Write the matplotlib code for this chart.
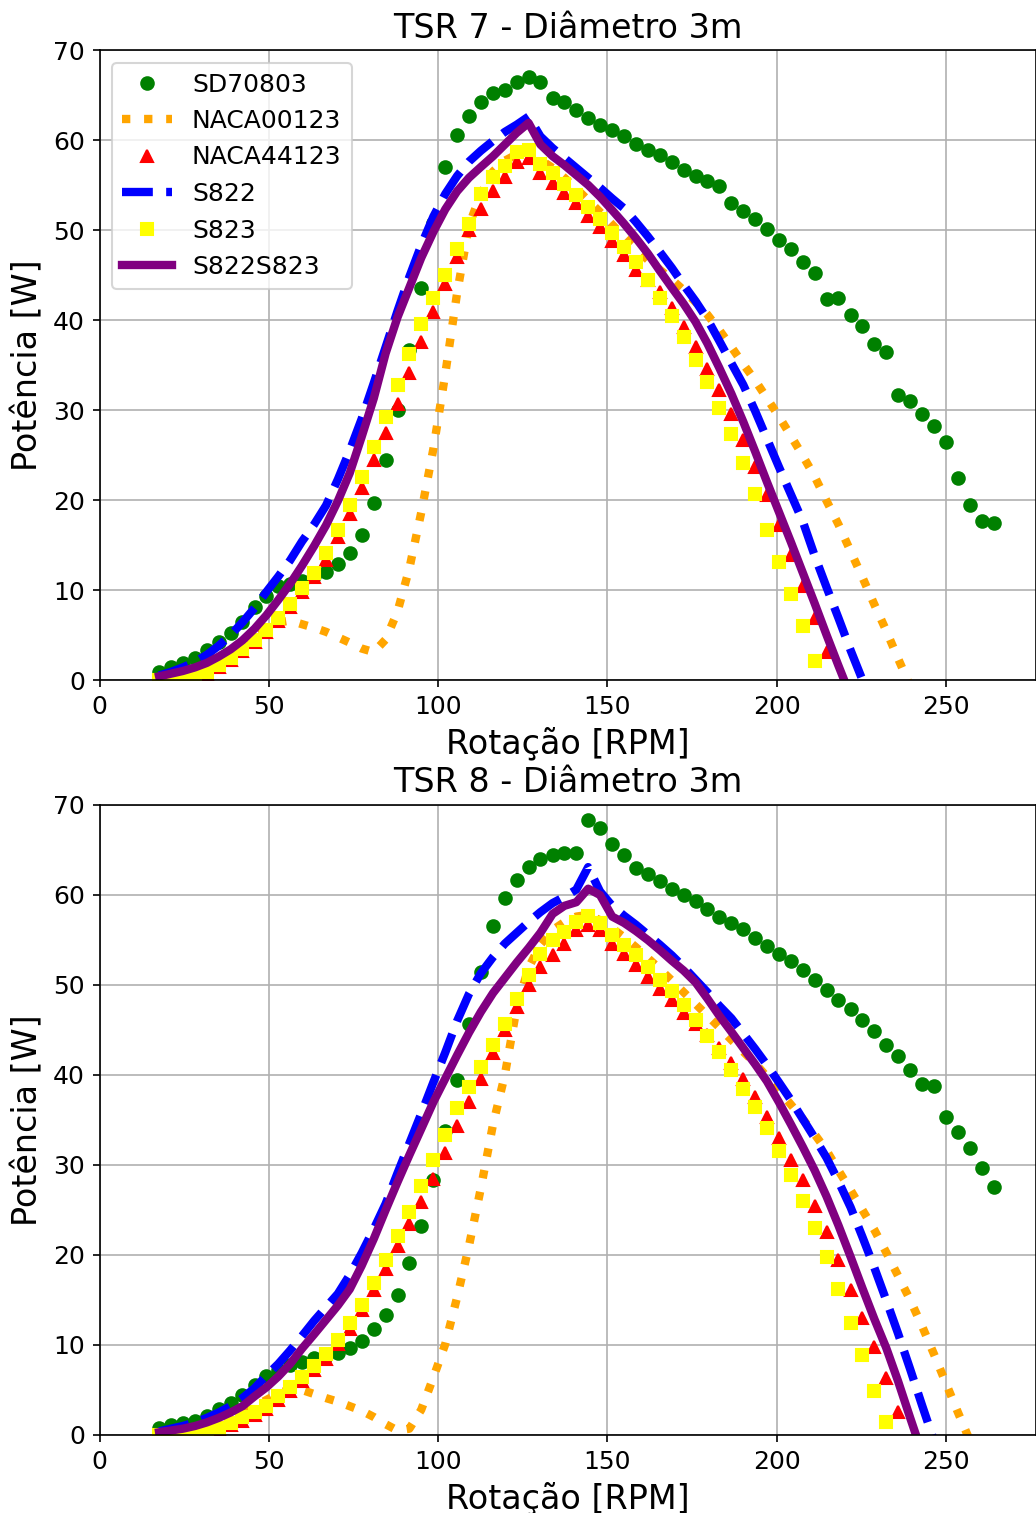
import matplotlib
matplotlib.use("Agg")
import matplotlib.pyplot as plt

# rotation values (RPM), shared by every profile
rpm = [17.6, 21.1, 24.6, 28.2, 31.7, 35.2, 38.7, 42.2, 45.8, 49.3,
       52.8, 56.3, 59.8, 63.4, 66.9, 70.4, 73.9, 77.4, 81.0, 84.5,
       88.0, 91.5, 95.0, 98.6, 102.1, 105.6, 109.1, 112.6, 116.2, 119.7,
       123.2, 126.7, 130.2, 133.8, 137.3, 140.8, 144.3, 147.8, 151.4, 154.9,
       158.4, 161.9, 165.4, 169.0, 172.5, 176.0, 179.5, 183.0, 186.6, 190.1,
       193.6, 197.1, 200.6, 204.2, 207.7, 211.2, 214.7, 218.2, 221.8, 225.3,
       228.8, 232.3, 235.8, 239.4, 242.9, 246.4, 249.9, 253.4, 257.0, 260.5,
       264.0]

# ---- TSR 7 power [W]
sd_7 = [0.9, 1.5, 1.85, 2.5, 3.3, 4.2, 5.2, 6.5, 8.1, 9.3,
        10.4, 10.7, 11.0, 11.6, 12.0, 12.9, 14.1, 16.1, 19.7, 24.4,
        30.0, 36.7, 43.6, 50.8, 57.0, 60.6, 62.7, 64.2, 65.2, 65.6,
        66.5, 67.0, 66.4, 64.7, 64.2, 63.3, 62.5, 61.7, 61.1, 60.4,
        59.6, 58.9, 58.3, 57.6, 56.7, 56.0, 55.4, 54.9, 53.0, 52.1,
        51.2, 50.1, 48.9, 47.9, 46.5, 45.2, 42.3, 42.5, 40.6, 39.3,
        37.3, 36.5, 31.7, 31.0, 29.6, 28.2, 26.5, 22.5, 19.5, 17.7,
        17.5]
naca00_7 = [0.3, 0.5, 0.8, 1.2, 1.7, 2.3, 3.1, 4.0, 5.0, 5.8,
            6.4, 6.6, 6.2, 5.8, 5.35, 4.75, 4.15, 3.5, 3.1, 4.5,
            7.6, 12.4, 18.6, 25.7, 34.0, 43.0, 50.5, 54.0, 56.5, 57.7,
            58.4, 58.5, 57.8, 56.9, 55.8, 54.6, 53.3, 52.0, 50.6, 49.2,
            47.9, 46.7, 45.6, 44.5, 43.3, 42.0, 40.6, 38.9, 37.0, 35.1,
            33.3, 31.3, 29.3, 27.1, 24.9, 22.6, 19.9, 17.3, 14.3, 11.4,
            8.4, 5.5, 2.4, -0.7]
naca44_7 = [0.0, 0.05, 0.1, 0.3, 0.7, 1.4, 2.2, 3.2, 4.2, 5.3,
            6.6, 8.1, 9.8, 11.5, 13.3, 15.9, 18.5, 21.3, 24.4, 27.4,
            30.7, 34.1, 37.6, 40.9, 44.0, 47.0, 50.0, 52.3, 54.3, 55.9,
            57.6, 58.0, 56.3, 55.2, 54.1, 53.0, 51.6, 50.3, 48.8, 47.2,
            45.6, 44.4, 43.1, 41.3, 39.2, 37.0, 34.6, 32.2, 29.6, 26.7,
            23.7, 20.6, 17.2, 13.9, 10.4, 6.9, 3.1]
s822_7 = [0.5, 0.9, 1.4, 2.0, 2.8, 3.8, 5.0, 6.4, 8.0, 9.8,
          11.5, 13.3, 15.4, 17.3, 19.4, 22.3, 25.5, 29.0, 33.0, 37.0,
          41.0, 44.8, 48.3, 51.5, 54.0, 56.0, 57.6, 58.8, 59.9, 60.9,
          61.7, 62.6, 60.4, 59.1, 58.0, 56.9, 55.8, 54.7, 53.5, 52.4,
          50.9, 49.3, 47.6, 45.8, 43.9, 42.1, 40.1, 37.7, 35.2, 32.8,
          29.9, 26.8, 23.7, 20.6, 17.6, 13.8, 10.3, 6.9, 3.3, 0.0,
          -3.5]
s823_7 = [0.0, 0.1, 0.2, 0.4, 0.9, 1.7, 2.5, 3.5, 4.5, 5.6,
          6.9, 8.4, 10.2, 11.9, 14.1, 16.7, 19.4, 22.6, 25.9, 29.2,
          32.8, 36.2, 39.6, 42.4, 45.0, 47.9, 50.7, 54.0, 55.9, 57.1,
          58.7, 58.9, 57.3, 56.3, 55.1, 53.9, 52.6, 51.2, 49.7, 48.1,
          46.4, 44.5, 42.4, 40.4, 38.1, 35.6, 33.1, 30.2, 27.3, 24.1,
          20.7, 16.7, 13.1, 9.6, 6.0, 2.1]
s822s823_7 = [0.4, 0.7, 1.0, 1.4, 1.9, 2.6, 3.4, 4.4, 5.7, 7.2,
              8.9, 10.7, 12.7, 14.9, 17.2, 19.9, 23.0, 27.0, 31.3, 36.3,
              40.3, 43.6, 46.9, 49.8, 52.3, 54.3, 55.8, 57.0, 58.2, 59.5,
              60.8, 61.9, 59.5, 58.2, 57.2, 56.1, 55.0, 53.7, 52.2, 50.7,
              49.1, 47.4, 45.5, 43.6, 41.8, 39.8, 37.4, 34.7, 31.8, 28.7,
              25.4, 22.0, 18.7, 15.3, 11.9, 8.5, 5.0, 1.6, -1.8]

# ---- TSR 8 power [W]
sd_8 = [0.8, 1.1, 1.3, 1.6, 2.1, 2.85, 3.6, 4.4, 5.6, 6.6,
        7.2, 7.8, 8.15, 8.6, 8.8, 9.15, 9.7, 10.5, 11.8, 13.3,
        15.6, 19.1, 23.2, 28.3, 33.8, 39.5, 45.7, 51.4, 56.6, 59.7,
        61.7, 63.1, 64.0, 64.4, 64.7, 64.7, 68.3, 67.4, 65.7, 64.4,
        63.0, 62.3, 61.6, 60.7, 60.0, 59.3, 58.5, 57.6, 56.9, 56.2,
        55.2, 54.3, 53.5, 52.7, 51.7, 50.6, 49.4, 48.3, 47.3, 46.1,
        44.9, 43.3, 42.1, 40.6, 39.0, 38.8, 35.3, 33.7, 31.9, 29.7,
        27.6]
naca00_8 = [0.2, 0.3, 0.5, 0.7, 1.0, 1.4, 1.9, 2.5, 3.2, 3.9,
            4.6, 5.1, 5.0, 4.55, 4.1, 3.7, 3.2, 2.7, 2.0, 1.2,
            0.5, 0.7, 2.8, 6.4, 10.1, 15.3, 21.0, 27.4, 34.5, 40.0,
            47.5, 51.9, 54.5, 56.1, 57.0, 57.6, 57.8, 57.2, 56.3, 55.3,
            54.2, 53.0, 51.8, 50.5, 49.2, 47.9, 46.6, 45.3, 43.9, 42.6,
            41.3, 39.8, 38.3, 36.7, 35.1, 33.4, 31.6, 29.4, 27.2, 25.0,
            22.8, 20.3, 17.7, 15.0, 12.1, 9.0, 5.8, 2.6, -0.6]
naca44_8 = [0.0, 0.0, 0.05, 0.2, 0.4, 0.7, 1.1, 1.6, 2.2, 2.9,
            3.9, 4.9, 6.0, 7.2, 8.5, 10.1, 11.8, 13.9, 16.1, 18.5,
            21.0, 23.5, 25.9, 28.5, 31.3, 34.3, 37.0, 39.6, 42.4, 45.0,
            47.6, 50.0, 52.0, 53.3, 54.6, 56.1, 56.7, 56.1, 54.6, 53.5,
            52.2, 50.9, 49.6, 48.3, 46.9, 45.7, 44.4, 43.0, 41.3, 39.6,
            37.6, 35.3, 33.0, 30.6, 28.3, 25.4, 22.6, 19.4, 16.1, 13.0,
            9.8, 6.3, 2.6]
s822_8 = [0.4, 0.7, 1.0, 1.4, 1.9, 2.5, 3.2, 4.1, 5.2, 6.6,
          7.9, 9.4, 11.0, 12.7, 14.2, 15.7, 17.8, 20.2, 22.9, 25.7,
          29.1, 32.4, 35.7, 39.2, 42.5, 46.0, 49.0, 51.3, 53.1, 54.6,
          55.8, 57.0, 58.1, 59.1, 59.8, 60.6, 63.1, 60.4, 58.8, 57.7,
          56.7, 55.6, 54.5, 53.3, 52.0, 50.6, 49.2, 47.7, 46.3, 44.6,
          42.9, 41.1, 39.2, 37.2, 35.1, 33.0, 30.8, 28.2, 25.3, 22.0,
          18.6, 15.0, 11.3, 7.3, 3.3, -0.6]
s823_8 = [0.0, 0.05, 0.1, 0.25, 0.5, 0.8, 1.3, 2.0, 2.6, 3.2,
          4.3, 5.3, 6.4, 7.7, 9.0, 10.6, 12.4, 14.4, 16.9, 19.4,
          22.1, 24.8, 27.7, 30.6, 33.3, 36.3, 38.7, 40.9, 43.3, 45.7,
          48.4, 51.1, 53.5, 55.0, 55.9, 57.0, 57.7, 56.9, 55.6, 54.4,
          53.3, 52.0, 50.6, 49.3, 47.8, 46.1, 44.3, 42.6, 40.6, 38.5,
          36.5, 34.1, 31.6, 28.9, 26.0, 23.0, 19.8, 16.2, 12.4, 8.9,
          4.9, 1.4]
s822s823_8 = [0.3, 0.5, 0.7, 1.0, 1.4, 1.9, 2.5, 3.2, 4.3, 5.3,
              6.5, 7.9, 9.6, 11.2, 12.8, 14.4, 16.2, 18.8, 21.8, 25.0,
              28.1, 31.1, 34.0, 37.0, 39.6, 42.2, 44.7, 47.0, 49.1, 50.8,
              52.5, 54.1, 55.8, 57.9, 58.8, 59.2, 60.7, 60.0, 57.6, 56.9,
              56.0, 55.0, 53.9, 52.7, 51.6, 50.3, 48.5, 46.6, 44.8, 43.0,
              41.2, 39.3, 37.0, 34.5, 32.0, 29.4, 26.5, 23.3, 19.8, 16.3,
              12.9, 9.7, 6.0, 1.9, -2.0]

W, H, DPI = 1036, 1513, 150
fig = plt.figure(figsize=(W / DPI, H / DPI), dpi=DPI)
ax1 = fig.add_axes([99.5 / W, 1 - 680 / H, 936 / W, 630 / H])
ax2 = fig.add_axes([99.5 / W, 1 - 1435 / H, 936 / W, 630 / H])


def draw(ax, title, sd, n00, n44, s822, s823, s822s823):
    ax.plot(rpm[:len(sd)], sd, 'o', color='green', label='SD70803')
    ax.plot(rpm[:len(n00)], n00, ':', color='orange', lw=4, label='NACA00123')
    ax.plot(rpm[:len(n44)], n44, '^', color='red', label='NACA44123')
    ax.plot(rpm[:len(s822)], s822, '--', color='blue', lw=4, label='S822')
    ax.plot(rpm[:len(s823)], s823, 's', color='yellow', label='S823')
    ax.plot(rpm[:len(s822s823)], s822s823, '-', color='purple', lw=4, label='S822S823')
    ax.set_xlim(0, 276.4)
    ax.set_ylim(0, 70)
    ax.grid(True)
    ax.set_title(title, fontsize=16)
    ax.set_xlabel('Rotação [RPM]', fontsize=16)
    ax.set_ylabel('Potência [W]', fontsize=16)
    ax.tick_params(labelsize=12)


draw(ax1, 'TSR 7 - Diâmetro 3m', sd_7, naca00_7, naca44_7, s822_7, s823_7, s822s823_7)
draw(ax2, 'TSR 8 - Diâmetro 3m', sd_8, naca00_8, naca44_8, s822_8, s823_8, s822s823_8)
ax1.legend(loc='upper left', fontsize=12)

fig.savefig('out.png', dpi=DPI)
